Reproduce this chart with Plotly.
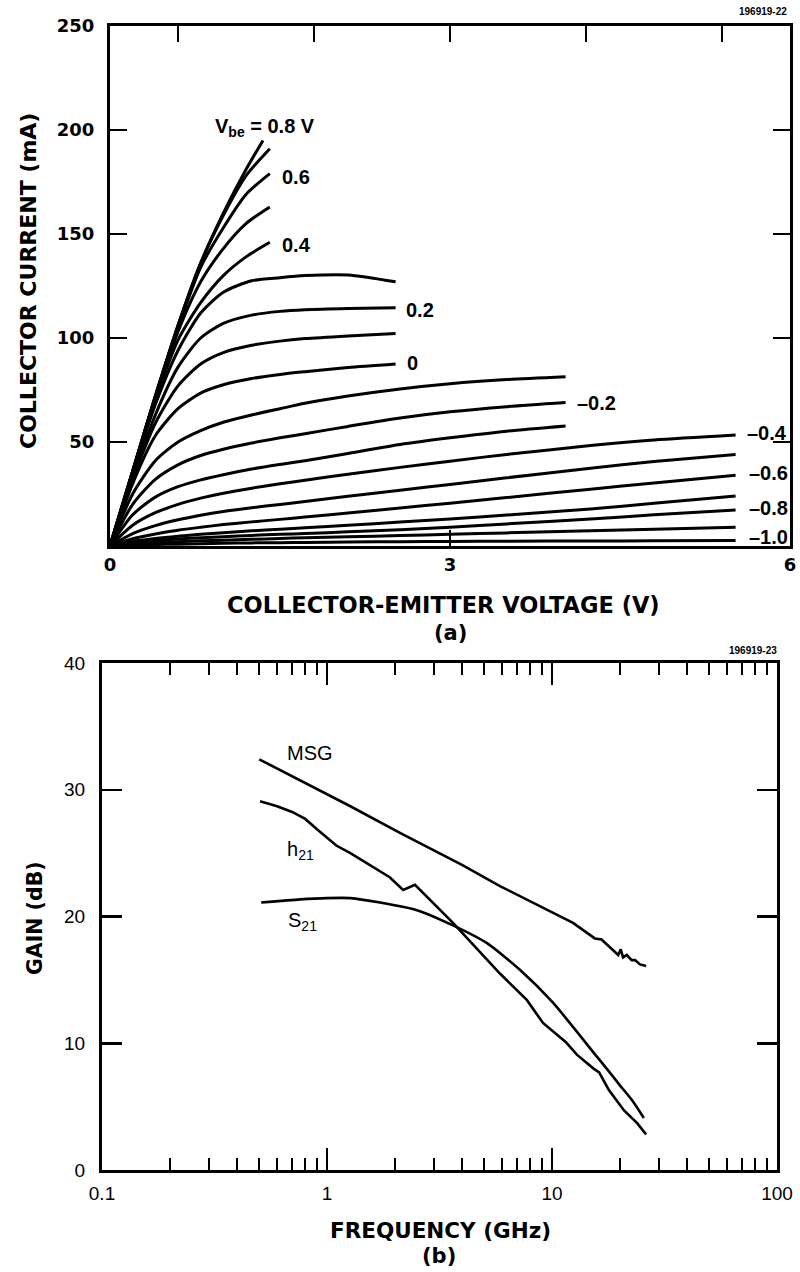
import math
import plotly.graph_objects as go

# ---------------- Panel (a): collector current vs collector-emitter voltage ----------------
VBE_LEVELS = [0.8, 0.7, 0.6, 0.5, 0.4, 0.3, 0.2, 0.1, 0.0, -0.1,
              -0.2, -0.3, -0.4, -0.5, -0.6, -0.7, -0.8, -0.9, -1.0]

VCE_SHORT_1 = [0, 0.2, 0.4, 0.6, 0.8, 1.0, 1.2, 1.35]
VCE_SHORT = [0, 0.2, 0.4, 0.6, 0.8, 1.0, 1.2, 1.41]
VCE_MID = [0, 0.2, 0.4, 0.6, 0.8, 1.0, 1.25, 1.5, 1.72, 2.1, 2.52]
VCE_4V = [0, 0.2, 0.4, 0.6, 0.8, 1.0, 1.25, 1.5, 1.72, 2.1, 2.56, 3.0, 3.5, 4.02]
VCE_6V = [0, 0.2, 0.4, 0.6, 0.8, 1.0, 1.25, 1.5, 1.72, 2.1, 2.56, 3.0, 3.5, 4.24, 4.8, 5.52]

IC_P08 = [0, 36, 72, 106, 136, 160, 181, 195]
IC_P07 = [0, 36, 72, 106, 136, 159, 178, 191]
IC_P06 = [0, 36, 72, 105, 134, 153, 169, 179]
IC_P05 = [0, 36, 71, 103, 127, 143, 155, 163]
IC_P04 = [0, 35, 70, 99, 117, 130, 139, 146]
IC_P03 = [0, 35, 68, 94, 112, 122, 127.5, 129, 130, 130.3, 127]
IC_P02 = [0, 33, 63, 86, 100, 107, 111, 112.8, 113.6, 114.2, 114.5]
IC_P01 = [0, 32, 59, 77, 87.5, 93, 96.5, 98.5, 99.7, 101, 102.2]
IC_P00 = [0, 30, 53, 66, 73.5, 77.5, 80.5, 82.5, 83.8, 85.8, 87.5]
IC_M01 = [0, 25, 41, 50, 55.5, 59.5, 63, 66, 68.6, 72.1, 75.5, 78, 80, 81.4]
IC_M02 = [0, 20, 32, 39, 43.5, 46.5, 49.5, 52, 54, 57.5, 61.5, 64.5, 67, 69]
IC_M03 = [0, 15, 23.5, 28.5, 31.8, 34.3, 37, 39.2, 41, 44.5, 48.8, 52, 55.2, 57.7]
IC_M04 = [0, 10, 16, 20, 23, 25.4, 27.8, 29.9, 31.6, 34.5, 37.8, 40.8, 44, 48.3, 51, 53.4]
IC_M05 = [0, 6, 9.8, 12.6, 14.8, 16.6, 18.4, 20, 21.4, 23.9, 26.8, 29.6, 32.8, 37.4, 40.6, 44]
IC_M06 = [0, 3.5, 5.8, 7.6, 9, 10.3, 11.6, 12.8, 13.9, 15.9, 18.3, 20.6, 23.3, 27.3, 30.3, 34]
IC_M07 = [0, 2.2, 3.6, 4.7, 5.6, 6.4, 7.3, 8.1, 8.8, 10, 11.5, 13, 14.9, 17.8, 20.5, 24]
IC_M08 = [0, 1.6, 2.6, 3.4, 4, 4.5, 5.1, 5.6, 6, 6.8, 7.8, 9, 10.6, 13, 15, 17.3]
IC_M09 = [0, 1, 1.6, 2.1, 2.5, 2.8, 3.2, 3.6, 4, 4.4, 5, 5.6, 6.3, 7.3, 8.1, 9]
IC_M10 = [0, 0.4, 0.7, 0.9, 1.1, 1.3, 1.5, 1.6, 1.7, 1.9, 2.1, 2.2, 2.3, 2.4, 2.5, 2.6]

CURVES_A = [
    (VCE_SHORT_1, IC_P08), (VCE_SHORT, IC_P07), (VCE_SHORT, IC_P06),
    (VCE_SHORT, IC_P05), (VCE_SHORT, IC_P04),
    (VCE_MID, IC_P03), (VCE_MID, IC_P02), (VCE_MID, IC_P01), (VCE_MID, IC_P00),
    (VCE_4V, IC_M01), (VCE_4V, IC_M02), (VCE_4V, IC_M03),
    (VCE_6V, IC_M04), (VCE_6V, IC_M05), (VCE_6V, IC_M06), (VCE_6V, IC_M07),
    (VCE_6V, IC_M08), (VCE_6V, IC_M09), (VCE_6V, IC_M10),
]

LABELS_A_TEXT = ["V<sub>be</sub> = 0.8 V", "0.6", "0.4", "0.2", "0",
                 "\u20130.2", "\u20130.4", "\u20130.6", "\u20130.8", "\u20131.0"]
LABELS_A_X = [0.91, 1.50, 1.50, 2.59, 2.60, 4.10, 5.60, 5.62, 5.62, 5.62]
LABELS_A_Y = [201, 177.4, 144.7, 113.5, 88, 68.8, 54.3, 35.1, 18.3, 4.3]

X_TICKS_A = [0, 3, 6]
X_TOP_TICKS_A = [0.6, 1.8, 3.0, 4.2, 5.4]
Y_TICKS_A = [50, 100, 150, 200, 250]

# ---------------- Panel (b): gain vs frequency ----------------
FREQ_MSG = [0.5, 0.75, 1.0, 1.27, 2.11, 3.0, 4.0, 5.87, 8.0, 10.0, 12.4, 15.5, 16.6,
            19.7, 20.2, 20.7, 21.5, 22.6, 23.4, 24.6, 26.2]
GAIN_MSG = [32.4, 30.8, 29.6, 28.7, 26.6, 25.2, 24.05, 22.4, 21.2, 20.35, 19.5, 18.27, 18.19,
            16.96, 17.41, 16.77, 16.96, 16.56, 16.56, 16.22, 16.09]

FREQ_H21 = [0.504, 0.6, 0.7, 0.8, 0.9, 1.0, 1.1, 1.27, 1.5, 1.9, 2.18, 2.46, 3.63, 5.87,
            7.74, 9.12, 11.5, 12.9, 15.3, 16.2, 17.9, 20.9, 23.9, 26.2]
GAIN_H21 = [29.1, 28.7, 28.25, 27.7, 26.9, 26.2, 25.6, 25.0, 24.2, 23.1, 22.1, 22.5, 19.5, 15.5,
            13.4, 11.6, 10.1, 9.1, 8.0, 7.7, 6.3, 4.7, 3.7, 2.8]

FREQ_S21 = [0.51, 0.76, 1.0, 1.27, 1.72, 2.51, 3.63, 5.14, 7.2, 10.1, 15.9, 17.5, 20.0, 22.7, 25.6]
GAIN_S21 = [21.1, 21.35, 21.45, 21.45, 21.1, 20.5, 19.3, 17.9, 15.8, 13.2, 8.9, 8.0, 6.7, 5.5, 4.1]

X_TICKS_B = [0.1, 1, 10, 100]
X_TICKTEXT_B = ["0.1", "1", "10", "100"]
X_MINOR_B = [0.2, 0.3, 0.4, 0.5, 0.6, 0.7, 0.8, 0.9,
             2, 3, 4, 5, 6, 7, 8, 9,
             20, 30, 40, 50, 60, 70, 80, 90]
Y_TICKS_B = [0, 10, 20, 30, 40]

LABELS_B_TEXT = ["MSG", "h<sub>21</sub>", "S<sub>21</sub>"]
LABELS_B_F = [0.65, 0.65, 0.66]
LABELS_B_G = [32.9, 25.2, 19.6]

# ---------------- figure ----------------
W, H = 800, 1272


def px(x):
    return x / W


def py(y):
    return 1 - y / H


fig = go.Figure()

n_curves = len(CURVES_A)
for i, (vce, ic) in enumerate(CURVES_A):
    # the last curve is attached to the top (overlaying) x axis so that axis is drawn
    xa = "x3" if i == n_curves - 1 else "x"
    fig.add_trace(go.Scatter(x=vce, y=ic, mode="lines", xaxis=xa, yaxis="y",
                             line=dict(color="black", width=3, shape="spline", smoothing=0.7),
                             hoverinfo="skip"))

fig.add_trace(go.Scatter(x=FREQ_MSG, y=GAIN_MSG, mode="lines", xaxis="x2", yaxis="y2",
                         line=dict(color="black", width=2.6), hoverinfo="skip"))
fig.add_trace(go.Scatter(x=FREQ_H21, y=GAIN_H21, mode="lines", xaxis="x2", yaxis="y2",
                         line=dict(color="black", width=2.6), hoverinfo="skip"))
fig.add_trace(go.Scatter(x=FREQ_S21, y=GAIN_S21, mode="lines", xaxis="x2", yaxis="y2",
                         line=dict(color="black", width=2.6, shape="spline", smoothing=0.6),
                         hoverinfo="skip"))

SANS = "Liberation Sans, Arial, sans-serif"
HEAVY = "DejaVu Sans, Arial, sans-serif"

annotations = []
for t, xv, yv in zip(LABELS_A_TEXT, LABELS_A_X, LABELS_A_Y):
    annotations.append(dict(text=t, x=xv, y=yv, xref="x", yref="y", xanchor="left",
                            yanchor="middle", showarrow=False,
                            font=dict(family=SANS, size=20, color="black", weight="bold")))

for t, fv, gv in zip(LABELS_B_TEXT, LABELS_B_F, LABELS_B_G):
    annotations.append(dict(text=t, x=math.log10(fv), y=gv, xref="x2", yref="y2",
                            xanchor="left", yanchor="middle", showarrow=False,
                            font=dict(family=SANS, size=20, color="black")))


def tfont(size):
    return dict(family=HEAVY, size=size, color="black", weight="bold")


annotations += [
    dict(text="COLLECTOR CURRENT (mA)", x=px(28), y=py(281), xref="paper", yref="paper",
         textangle=-90, showarrow=False, font=tfont(22), xanchor="center", yanchor="middle"),
    dict(text="COLLECTOR-EMITTER VOLTAGE (V)", x=px(443), y=py(605), xref="paper", yref="paper",
         showarrow=False, font=tfont(22.5), xanchor="center", yanchor="middle"),
    dict(text="(a)", x=px(450), y=py(633), xref="paper", yref="paper",
         showarrow=False, font=tfont(21), xanchor="center", yanchor="middle"),
    dict(text="GAIN (dB)", x=px(35), y=py(918), xref="paper", yref="paper",
         textangle=-90, showarrow=False, font=tfont(20.5), xanchor="center", yanchor="middle"),
    dict(text="FREQUENCY (GHz)", x=px(440), y=py(1230), xref="paper", yref="paper",
         showarrow=False, font=tfont(21.5), xanchor="center", yanchor="middle"),
    dict(text="(b)", x=px(439), y=py(1256), xref="paper", yref="paper",
         showarrow=False, font=tfont(21), xanchor="center", yanchor="middle"),
    dict(text="196919-22", x=px(789), y=py(12), xref="paper", yref="paper",
         showarrow=False, xanchor="right", yanchor="middle",
         font=dict(family=SANS, size=10, color="black", weight="bold")),
    dict(text="196919-23", x=px(779), y=py(650), xref="paper", yref="paper",
         showarrow=False, xanchor="right", yanchor="middle",
         font=dict(family=SANS, size=10, color="black", weight="bold")),
]

axis_common = dict(showgrid=False, zeroline=False, linecolor="black", linewidth=3,
                   ticks="inside", tickcolor="black", tickwidth=2.5, automargin=False)

fig.update_layout(
    template="none",
    width=W, height=H, margin=dict(l=0, r=0, t=0, b=0, pad=0, autoexpand=False),
    paper_bgcolor="white", plot_bgcolor="white", showlegend=False,
    annotations=annotations,
    xaxis=dict(**axis_common, domain=[px(110), px(790)], range=[0, 6], anchor="y",
               tickvals=X_TICKS_A, ticklen=16, mirror=True, showline=True,
               tickfont=dict(family=HEAVY, size=18, color="black", weight="bold")),
    xaxis3=dict(showgrid=False, zeroline=False, overlaying="x", side="top", range=[0, 6],
                anchor="y", tickvals=X_TOP_TICKS_A, ticks="inside", ticklen=16,
                tickwidth=2.5, tickcolor="black", showticklabels=False, showline=False,
                automargin=False),
    yaxis=dict(**axis_common, domain=[py(546), py(26)], range=[0, 250], anchor="x",
               tickvals=Y_TICKS_A, ticklen=17, mirror="ticks", showline=True,
               ticklabelstandoff=9,
               tickfont=dict(family=HEAVY, size=18, color="black", weight="bold")),
    xaxis2=dict(**axis_common, type="log", domain=[px(102), px(777)], range=[-1, 2],
                anchor="y2", tickvals=X_TICKS_B, ticktext=X_TICKTEXT_B, ticklen=22,
                mirror="ticks", showline=True, ticklabelstandoff=4,
                minor=dict(tickvals=X_MINOR_B, ticks="inside", ticklen=12, tickwidth=2,
                           tickcolor="black", showgrid=False),
                tickfont=dict(family=SANS, size=19, color="black")),
    yaxis2=dict(**axis_common, domain=[py(1170), py(663)], range=[0, 40], anchor="x2",
                tickvals=Y_TICKS_B, ticklen=20, mirror="ticks", showline=True,
                ticklabelstandoff=10,
                tickfont=dict(family=SANS, size=19, color="black")),
)

fig.write_html("out.html",
               config={"displayModeBar": False, "staticPlot": True},
               post_script="document.body.style.margin='0';document.body.style.padding='0';")
